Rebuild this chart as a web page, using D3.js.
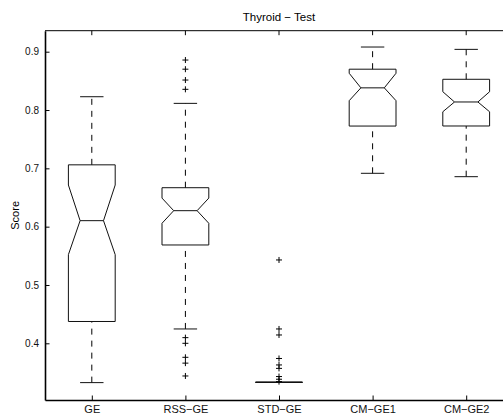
<!DOCTYPE html>
<html>
<head>
<meta charset="utf-8">
<script src="https://cdn.jsdelivr.net/npm/d3@7"></script>
<style>
  body { margin: 0; background: #fff; }
  svg { display: block; font-family: "Liberation Sans", Arial, sans-serif; }
</style>
</head>
<body>
<svg id="chart" width="503" height="415"></svg>
<script>
// box statistics
var categories = ["GE", "RSS\u2212GE", "STD\u2212GE", "CM\u2212GE1", "CM\u2212GE2"]
var whiskerLo = [0.3326, 0.4246, 0.3331, 0.6915, 0.6857]
var q1        = [0.4374, 0.5686, 0.3331, 0.7725, 0.7726]
var notchLo   = [0.5520, 0.6058, 0.3331, 0.8160, 0.7970]
var medians   = [0.6103, 0.6274, 0.3331, 0.8380, 0.8138]
var notchHi   = [0.6714, 0.6490, 0.3331, 0.8630, 0.8314]
var q3        = [0.7060, 0.6668, 0.3331, 0.8700, 0.8527]
var whiskerHi = [0.8228, 0.8114, 0.3331, 0.9080, 0.9040]
var outliers  = [
  [],
  [0.8857, 0.8700, 0.8514, 0.8355, 0.4097, 0.4000, 0.3760, 0.3660, 0.3440],
  [0.5429, 0.4246, 0.4143, 0.3740, 0.3629, 0.3570, 0.3430, 0.3384, 0.3343],
  [],
  []
]
var yTicks = [0.4, 0.5, 0.6, 0.7, 0.8, 0.9]
var title = "Thyroid \u2212 Test"
var yLabel = "Score"

var svg = d3.select("#chart")
// note: "top" is taken by window.top, so use plot_* names
var plot_left = 45, plot_right = 513, plot_top = 30.7, plot_bottom = 400

var x = d3.scaleLinear().domain([0.5, categories.length + 0.5]).range([plot_left, plot_right])
var y = d3.scaleLinear().domain([0.3028, 0.936]).range([plot_bottom, plot_top])

var step = x(2) - x(1)
var hw = step * 0.25      // half box width
var cw = hw / 2           // half cap width

var data = categories.map((c, i) => ({
  name: c, pos: i + 1,
  wlo: whiskerLo[i], q1: q1[i], nlo: notchLo[i], med: medians[i],
  nhi: notchHi[i], q3: q3[i], whi: whiskerHi[i], out: outliers[i]
}))

// frame: top line and left/bottom axes
svg.append("line")
  .attr("x1", plot_left).attr("x2", plot_right).attr("y1", plot_top).attr("y2", plot_top)
  .attr("stroke", "#000").attr("stroke-width", 1)

var yAxis = svg.append("g")
  .attr("transform", `translate(${plot_left},0)`)
  .call(d3.axisLeft(y).tickValues(yTicks).tickSizeInner(-4.5).tickSizeOuter(0)
    .tickPadding(6).tickFormat(d3.format(".1f")))
yAxis.select(".domain").attr("stroke-width", 1.6)
yAxis.selectAll(".tick text").attr("font-size", 10).attr("fill", "#111")

var xAxis = svg.append("g")
  .attr("transform", `translate(0,${plot_bottom})`)
  .call(d3.axisBottom(x).tickValues(data.map(d => d.pos)).tickSizeInner(-4.5).tickSizeOuter(0)
    .tickPadding(0).tickFormat((d, i) => categories[i]))
xAxis.select(".domain").attr("stroke-width", 1.6)
xAxis.selectAll(".tick text").attr("font-size", 11).attr("fill", "#111")
  .attr("dy", null).attr("y", 13)

// top ticks
svg.append("g").selectAll("line")
  .data(data)
  .join("line")
  .attr("x1", d => x(d.pos)).attr("x2", d => x(d.pos))
  .attr("y1", plot_top).attr("y2", plot_top + 4.5)
  .attr("stroke", "#000")

// boxes
var boxes = svg.append("g").selectAll(".box")
  .data(data)
  .join("g")
  .attr("class", "box")

boxes.each(function(d) {
  var g = d3.select(this)
  var cx = x(d.pos)
  // whiskers
  ;[[d.q3, d.whi], [d.wlo, d.q1]].forEach(w => {
    if (w[0] == w[1]) return
    g.append("line")
      .attr("x1", cx).attr("x2", cx).attr("y1", y(w[0])).attr("y2", y(w[1]))
      .attr("stroke", "#000").attr("stroke-dasharray", "6,6")
  })
  ;[d.whi, d.wlo].forEach(v => {
    g.append("line")
      .attr("x1", cx - cw).attr("x2", cx + cw).attr("y1", y(v)).attr("y2", y(v))
      .attr("stroke", "#111")
  })
  // notched box
  var pts = [
    [cx - hw, d.q1], [cx - hw, d.nlo], [cx - hw / 2, d.med], [cx - hw, d.nhi], [cx - hw, d.q3],
    [cx + hw, d.q3], [cx + hw, d.nhi], [cx + hw / 2, d.med], [cx + hw, d.nlo], [cx + hw, d.q1]
  ]
  g.append("path")
    .attr("d", d3.line().x(p => p[0]).y(p => y(p[1]))(pts) + "Z")
    .attr("fill", "none").attr("stroke", "#111").attr("stroke-width", 1)
  var mw = d.q1 == d.q3 ? hw : hw / 2
  g.append("line")
    .attr("x1", cx - mw).attr("x2", cx + mw).attr("y1", y(d.med)).attr("y2", y(d.med))
    .attr("stroke", "#111")
  // outliers
  g.selectAll(".out")
    .data(d.out)
    .join("path")
    .attr("class", "out")
    .attr("d", v => `M${cx - 3},${y(v)}H${cx + 3}M${cx},${y(v) - 3}V${y(v) + 3}`)
    .attr("stroke", "#000").attr("stroke-width", 1)
})

svg.append("text")
  .attr("x", (plot_left + plot_right) / 2).attr("y", 21)
  .attr("text-anchor", "middle").attr("font-size", 11.5)
  .text(title)

svg.append("text")
  .attr("transform", `translate(19,${(plot_top + plot_bottom) / 2}) rotate(-90)`)
  .attr("text-anchor", "middle").attr("font-size", 11)
  .text(yLabel)
</script>
</body>
</html>
